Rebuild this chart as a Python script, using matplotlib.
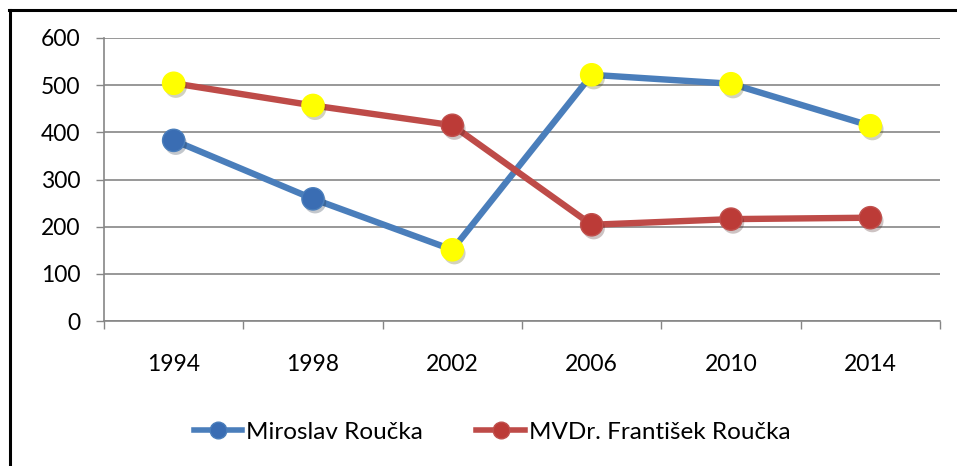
import matplotlib
matplotlib.use("Agg")
import matplotlib.pyplot as plt
from matplotlib.lines import Line2D
import matplotlib.patheffects as pe

years = ["1994", "1998", "2002", "2006", "2010", "2014"]
miroslav = [383, 259, 151, 522, 503, 414]
frantisek = [504, 457, 415, 204, 216, 219]
# which candidate is highlighted (yellow marker) in each year
highlight_miroslav = [False, False, True, True, True, True]
highlight_frantisek = [True, True, False, False, False, False]
series_names = ["Miroslav Roučka", "MVDr. František Roučka"]
y_ticks = [0, 100, 200, 300, 400, 500, 600]

plt.rcParams['font.family'] = ['Lato', 'DejaVu Sans']

W, H, DPI = 957, 466, 100
fig = plt.figure(figsize=(W / DPI, H / DPI), dpi=DPI)
ax = fig.add_axes([104 / W, 1 - 321 / H, (940 - 104) / W, (321 - 38) / H])

blue = "#4A7EBB"
blue_m = "#3A6DB3"
red = "#BE4B48"
red_m = "#BC3B37"
yellow = "#FFFF00"

x = list(range(len(years)))
shadow = [pe.SimplePatchShadow(offset=(1.5, -2.5), alpha=0.25), pe.Normal()]

ax.plot(x, miroslav, color=blue, lw=4.6, zorder=3, solid_capstyle='butt')
ax.plot(x, frantisek, color=red, lw=4.6, zorder=3, solid_capstyle='butt')
for xi, v, h in zip(x, miroslav, highlight_miroslav):
    ax.plot([xi], [v], 'o', ms=16, mfc=yellow if h else blue_m,
            mec=yellow if h else "#4A7EBB", mew=1, zorder=4, path_effects=shadow)
for xi, v, h in zip(x, frantisek, highlight_frantisek):
    ax.plot([xi], [v], 'o', ms=16, mfc=yellow if h else red_m,
            mec=yellow if h else "#C0504D", mew=1, zorder=4, path_effects=shadow)

ax.set_xlim(-0.5, len(years) - 0.5)
ax.set_ylim(0, 600)
ax.set_yticks(y_ticks)
ax.set_yticklabels([str(t) for t in y_ticks], fontsize=16.5)
ax.set_xticks(x)
ax.set_xticklabels(years, fontsize=16.5)
ax.set_xticks([i - 0.5 for i in range(len(years) + 1)], minor=True)
ax.tick_params(axis='x', which='major', length=0, pad=24)
ax.tick_params(axis='x', which='minor', length=6, width=1, color="#868686")
ax.tick_params(axis='y', length=6, width=1, color="#868686", pad=11)
ax.grid(axis='y', color="#868686", lw=1.2, zorder=1)
for s in ['top', 'right']:
    ax.spines[s].set_visible(False)
for s in ['left', 'bottom']:
    ax.spines[s].set_color("#868686")
    ax.spines[s].set_linewidth(1.2)

handles = [
    Line2D([], [], color=blue, lw=4, marker='o', ms=12, mfc=blue_m, mec=blue),
    Line2D([], [], color=red, lw=4, marker='o', ms=12, mfc=red_m, mec="#C0504D"),
]
fig.legend(handles, series_names, loc='center', bbox_to_anchor=(492 / W, 1 - 432 / H),
           ncol=2, frameon=False, fontsize=17.5, handlelength=2.0, handletextpad=0.15,
           columnspacing=2.2)

# figure frame (left and top edges visible)
fig.add_artist(Line2D([10 / W, 10 / W], [0, 1 - 10 / H], color='black', lw=2.2,
                      transform=fig.transFigure))
fig.add_artist(Line2D([9 / W, 1], [1 - 10 / H, 1 - 10 / H], color='black', lw=2.2,
                      transform=fig.transFigure))

fig.savefig("out.png", dpi=DPI)
